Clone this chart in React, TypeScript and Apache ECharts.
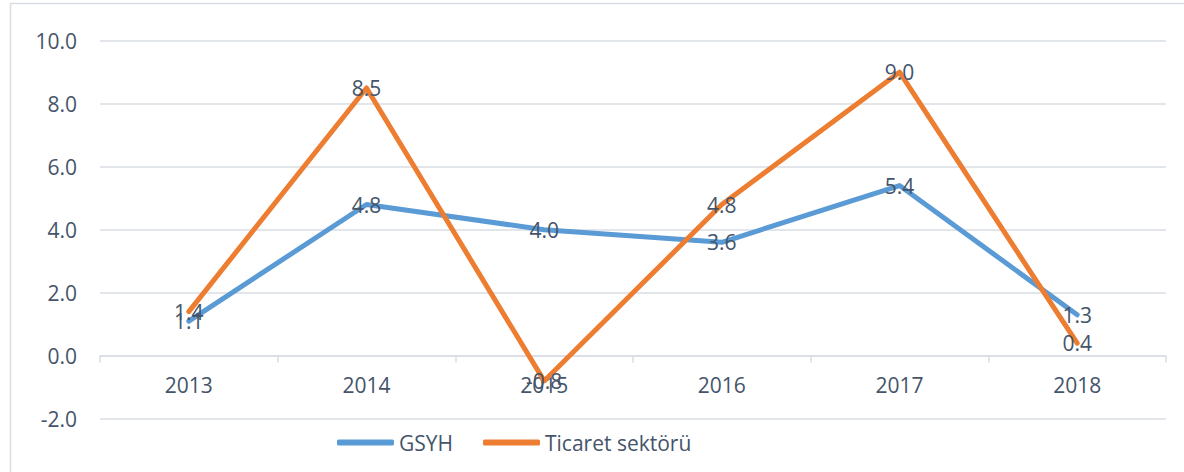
import React, { useEffect, useRef } from "react";
import * as echarts from "echarts";

const categories = ["2013", "2014", "2015", "2016", "2017", "2018"];
const gsyh = [1.1, 4.8, 4.0, 3.6, 5.4, 1.3];
const ticaret = [1.4, 8.5, -0.8, 4.8, 9.0, 0.4];
const seriesNames = ["GSYH", "Ticaret sektörü"];

const textColor = "#44546a";
const gridColor = "#d9dde3";
const font = "'Open Sans', 'Noto Sans', sans-serif";

export default function App() {
  const ref = useRef<HTMLDivElement>(null);
  useEffect(() => {
    if (!ref.current) return;
    const chart = echarts.init(ref.current, undefined, { renderer: "svg" });
    const label = {
      show: true,
      position: "inside",
      color: textColor,
      fontSize: 21,
      fontFamily: font,
      formatter: (p: any) => Number(p.value).toFixed(1),
    };
    const gridTop = 40.7;
    const gridBottom = 53.3;
    const plotH = 472 - gridTop - gridBottom;
    const zeroOffset = -plotH * (2 / 12);
    chart.setOption({
      animation: false,
      backgroundColor: "#ffffff",
      textStyle: { fontFamily: font },
      grid: { left: 100, right: 18, top: gridTop, bottom: gridBottom, containLabel: false },
      graphic: [
        { type: "line", shape: { x1: 10, y1: 3.5, x2: 1184, y2: 3.5 }, style: { stroke: gridColor, lineWidth: 1.5 } },
        { type: "line", shape: { x1: 10.5, y1: 3, x2: 10.5, y2: 472 }, style: { stroke: gridColor, lineWidth: 1.5 } },
      ],
      legend: {
        left: 332,
        top: 427,
        icon: "roundRect",
        itemWidth: 57,
        itemHeight: 6,
        itemGap: 30,
        textStyle: { color: textColor, fontSize: 21, fontFamily: font },
        data: seriesNames,
      },
      xAxis: {
        type: "category",
        data: categories,
        boundaryGap: true,
        offset: zeroOffset,
        axisLine: { onZero: false, lineStyle: { color: gridColor, width: 1.5 } },
        axisTick: { show: true, length: 7, lineStyle: { color: gridColor, width: 1.5 } },
        axisLabel: { color: textColor, fontSize: 21, fontFamily: font, margin: 19 },
        splitLine: { show: false },
      },
      yAxis: {
        type: "value",
        min: -2,
        max: 10,
        interval: 2,
        axisLine: { show: false },
        axisTick: { show: false },
        axisLabel: {
          color: textColor,
          fontSize: 21,
          fontFamily: font,
          margin: 23,
          formatter: (v: number) => v.toFixed(1),
        },
        splitLine: { lineStyle: { color: gridColor, width: 1.5 } },
      },
      series: [
        {
          name: seriesNames[0],
          type: "line",
          data: gsyh,
          color: "#5b9bd5",
          symbol: "circle",
          symbolSize: 0.1,
          lineStyle: { width: 5, cap: "round", join: "round", color: "#5b9bd5" },
          itemStyle: { color: "#5b9bd5" },
          label,
          z: 2,
        },
        {
          name: seriesNames[1],
          type: "line",
          data: ticaret,
          color: "#ed7d31",
          symbol: "circle",
          symbolSize: 0.1,
          lineStyle: { width: 5, cap: "round", join: "round", color: "#ed7d31" },
          itemStyle: { color: "#ed7d31" },
          label,
          z: 3,
        },
      ],
    });
    return () => chart.dispose();
  }, []);
  return (
    <div
      ref={ref}
      style={{ position: "fixed", left: 0, top: 0, width: 1184, height: 472 }}
    />
  );
}
